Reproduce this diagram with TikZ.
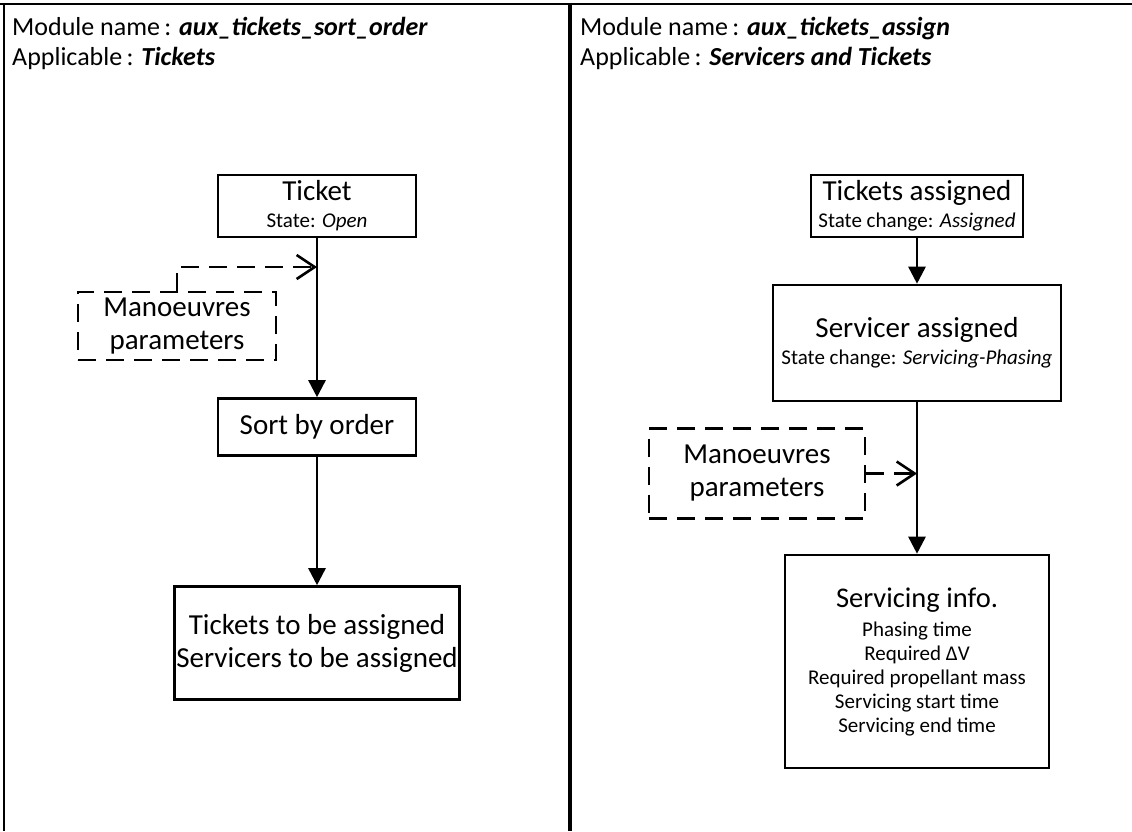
\documentclass[tikz,border=0pt]{standalone}
\usepackage{fontspec}
\setmainfont{Carlito}
\usetikzlibrary{arrows.meta}
\newcommand{\headtxt}{\fontsize{26}{30}\selectfont}
\newcommand{\bigtxt}{\fontsize{29}{33}\selectfont}
\newcommand{\pairtxt}{\fontsize{29}{27}\selectfont}
\newcommand{\smalltxt}{\fontsize{21}{24}\selectfont}
\begin{document}
\begin{tikzpicture}[x=1pt,y=-1pt,
  box/.style={draw,line width=2.6pt,align=center,inner sep=2pt,font=\bigtxt},
  dbox/.style={box,dash pattern=on 18pt off 10pt},
  flow/.style={line width=2.6pt,-{Triangle[length=17pt,width=17pt]}},
  feed/.style={line width=2.6pt,dash pattern=on 18pt off 10pt,
    -{Straight Barb[length=18pt,width=24pt,line width=2.6pt]}},
  title/.style={anchor=base west,inner sep=0pt,font=\headtxt},
 ]
\useasboundingbox (0,0) rectangle (1132,831);

% frame and panel divider
\draw[line width=2pt] (0,4) -- (1132,4);
\draw[line width=2pt] (4,4) -- (4,831);
\draw[line width=4pt] (570,4) -- (570,831);

% panel headings
\node[title] (n1) at (12,35) {Module name\,: \textbf{\textit{aux\_tickets\_sort\_order}}};
\node[title] (a1) at (12,65) {Applicable\,: \textbf{\textit{Tickets}}};
\node[title] (n2) at (580,35) {Module name\,: \textbf{\textit{aux\_tickets\_assign}}};
\node[title] (a2) at (580,65) {Applicable\,: \textbf{\textit{Servicers and Tickets}}};

% left panel
\node[box,font=\pairtxt,minimum width=198pt,minimum height=62pt] (ticket) at (317,206)
  {Ticket\\{\smalltxt State: \textit{Open}}};
\node[box,minimum width=198pt,minimum height=57pt] (sort) at (317,427) {Sort by order};
\node[box,minimum width=282pt,minimum height=113pt] (tobe) at (317,643)
  {Tickets to be assigned\\Servicers to be assigned};
\node[dbox,minimum width=198pt,minimum height=68pt] (man1) at (177,326)
  {Manoeuvres\\parameters};
\coordinate (j1) at (317,267);

\draw[flow] (ticket) -- (sort);
\draw[flow] (sort) -- (tobe);
\draw[feed] (man1.north) |- (j1);

% right panel
\node[box,font=\pairtxt,minimum width=212pt,minimum height=62pt] (tass) at (917,206)
  {Tickets assigned\\{\smalltxt State change: \textit{Assigned}}};
\node[box,font=\pairtxt,minimum width=288pt,minimum height=116pt] (sass) at (917,343)
  {Servicer assigned\\{\smalltxt State change: \textit{Servicing-Phasing}}};
\node[dbox,minimum width=216pt,minimum height=90pt] (man2) at (757,473.5)
  {Manoeuvres\\parameters};
\node[box,font=\smalltxt,minimum width=264pt,minimum height=213pt] (info) at (917,661.5)
  {{\fontsize{28.5}{32}\selectfont Servicing info.}\\[5pt]
   Phasing time\\Required ΔV\\Required propellant mass\\
   Servicing start time\\Servicing end time};
\coordinate (j2) at (917,473.5);

\draw[flow] (tass) -- (sass);
\draw[flow] (sass) -- (info);
\draw[feed] (man2) -- (j2);
\end{tikzpicture}
\end{document}
